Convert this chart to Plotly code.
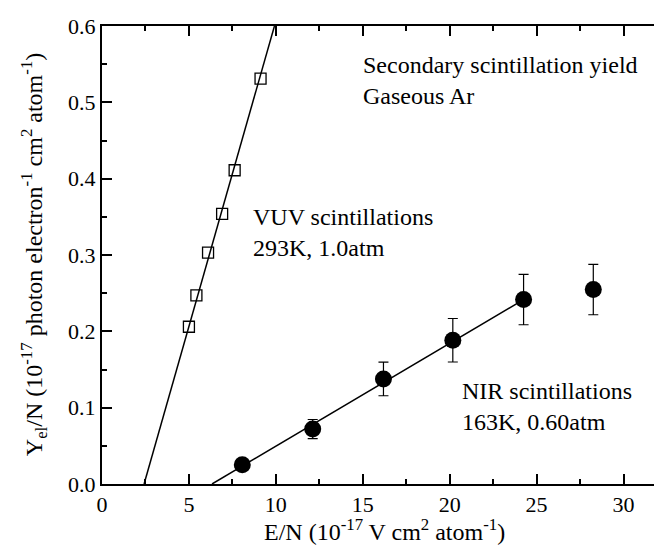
import plotly.graph_objects as go

# VUV scintillations (293K, 1.0 atm) - open squares
vuv_en = [5.0, 5.43, 6.10, 6.91, 7.63, 9.12]
vuv_y = [0.206, 0.247, 0.303, 0.354, 0.411, 0.531]
vuv_fit_x = [2.42, 9.92]
vuv_fit_y = [0.0, 0.6]

# NIR scintillations (163K, 0.60 atm) - filled circles with error bars
nir_en = [8.07, 12.12, 16.19, 20.18, 24.25, 28.26]
nir_y = [0.0253, 0.072, 0.1376, 0.1883, 0.2416, 0.2547]
nir_err = [0.004, 0.0125, 0.022, 0.0285, 0.033, 0.033]
nir_fit_x = [6.33, 24.25]
nir_fit_y = [0.0, 0.2416]

FONT = "Liberation Serif"

fig = go.Figure()
fig.add_trace(go.Scatter(x=vuv_fit_x, y=vuv_fit_y, mode="lines",
                         line=dict(color="black", width=1.5), showlegend=False))
fig.add_trace(go.Scatter(x=nir_fit_x, y=nir_fit_y, mode="lines",
                         line=dict(color="black", width=1.5), showlegend=False))
fig.add_trace(go.Scatter(x=vuv_en, y=vuv_y, mode="markers",
                         marker=dict(symbol="square-open", size=11, color="black",
                                     line=dict(width=1.3, color="black")),
                         showlegend=False))
fig.add_trace(go.Scatter(x=nir_en, y=nir_y, mode="markers",
                         marker=dict(symbol="circle", size=17, color="black"),
                         error_y=dict(type="data", array=nir_err, visible=True,
                                      color="black", thickness=1.2, width=5),
                         showlegend=False))

axis_common = dict(showline=True, linecolor="black", linewidth=2, mirror="allticks",
                   ticks="inside", ticklen=10, tickwidth=1.5, tickcolor="black",
                   showgrid=False, zeroline=False,
                   tickfont=dict(family=FONT, size=22, color="black"))

fig.update_xaxes(range=[0, 32.5], dtick=5, tick0=0,
                 minor=dict(ticks="inside", dtick=2.5, ticklen=5, tickwidth=1.5, tickcolor="black"),
                 **axis_common)
fig.update_yaxes(range=[0, 0.6], dtick=0.1, tick0=0, tickformat=".1f",
                 minor=dict(ticks="inside", dtick=0.05, ticklen=5, tickwidth=1.5, tickcolor="black"),
                 **axis_common)

ann_font = dict(family=FONT, size=24, color="black")
fig.add_annotation(x=14.87, y=0.529, xref="x", yref="y", xanchor="left", yanchor="middle",
                   text="Secondary scintillation yield<br>Gaseous Ar", showarrow=False,
                   align="left", font=ann_font)
fig.add_annotation(x=8.55, y=0.330, xref="x", yref="y", xanchor="left", yanchor="middle",
                   text="VUV scintillations<br>293K, 1.0atm", showarrow=False,
                   align="left", font=ann_font)
fig.add_annotation(x=20.6, y=0.102, xref="x", yref="y", xanchor="left", yanchor="middle",
                   text="NIR scintillations<br>163K, 0.60atm", showarrow=False,
                   align="left", font=ann_font)

# axis titles
fig.add_annotation(x=0.5, y=-0.10, xref="paper", yref="paper", xanchor="center", yanchor="middle",
                   text="E/N (10<sup>-17</sup> V cm<sup>2</sup> atom<sup>-1</sup>)",
                   showarrow=False, font=ann_font)
fig.add_annotation(x=-0.12, y=0.5, xref="paper", yref="paper", xanchor="center", yanchor="middle",
                   textangle=-90,
                   text="Y<sub>el</sub>/N (10<sup>-17</sup> photon electron<sup>-1</sup> cm<sup>2</sup> atom<sup>-1</sup>)",
                   showarrow=False, font=ann_font)

fig.update_layout(width=662, height=545, plot_bgcolor="white", paper_bgcolor="white",
                  margin=dict(l=94, r=1, t=18, b=69),
                  font=dict(family=FONT, color="black"))

fig.write_html("out.html")
